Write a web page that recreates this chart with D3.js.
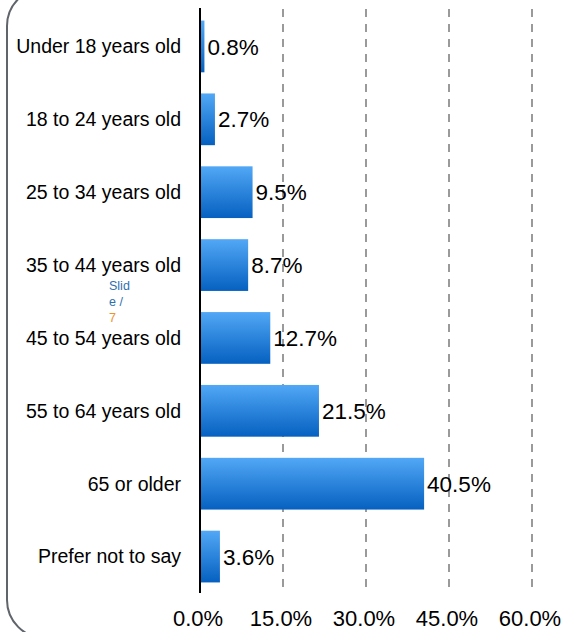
<!DOCTYPE html>
<html><head><meta charset="utf-8">
<script src="https://cdn.jsdelivr.net/npm/d3@7"></script>
<style>html,body{margin:0;padding:0;background:#fff;}svg{display:block;font-family:"Liberation Sans",Arial,sans-serif;}</style>
</head><body>
<svg id="chart" width="570" height="632"></svg>
<script>
const categories = ["Under 18 years old","18 to 24 years old","25 to 34 years old","35 to 44 years old","45 to 54 years old","55 to 64 years old","65 or older","Prefer not to say"];
const values = [0.8, 2.7, 9.5, 8.7, 12.7, 21.5, 40.5, 3.6];
const tickValues = [0, 15, 30, 45, 60];
const tickLabels = ["0.0%","15.0%","30.0%","45.0%","60.0%"];

const svg = d3.select("#chart");
const defs = svg.append("defs");
const grad = defs.append("linearGradient").attr("id","barGrad").attr("x1",0).attr("y1",0).attr("x2",0).attr("y2",1);
grad.append("stop").attr("offset","0%").attr("stop-color","#52a8f6");
grad.append("stop").attr("offset","100%").attr("stop-color","#0560c0");

// rounded border
svg.append("rect").attr("x",7).attr("y",-12).attr("width",700).attr("height",650)
  .attr("rx",38).attr("ry",38).attr("fill","none").attr("stroke","#60646b").attr("stroke-width",2);

const x = d3.scaleLinear().domain([0,60]).range([200,532]);
const y = d3.scaleBand().domain(categories).range([10,593]).paddingInner(0.29).paddingOuter(0.145);

// gridlines
svg.append("g").selectAll("line").data(tickValues.filter(d=>d>0)).join("line")
  .attr("x1",d=>x(d)).attr("x2",d=>x(d)).attr("y1",9).attr("y2",593)
  .attr("stroke","#9a9a9a").attr("stroke-width",2).attr("stroke-dasharray","8,7");

// bars
svg.append("g").selectAll("rect").data(values).join("rect")
  .attr("x",x(0)).attr("y",(d,i)=>y(categories[i]))
  .attr("width",d=>x(d)-x(0)).attr("height",y.bandwidth())
  .attr("fill","url(#barGrad)");

// axis line
svg.append("line").attr("x1",x(0)).attr("x2",x(0)).attr("y1",8).attr("y2",593)
  .attr("stroke","#000").attr("stroke-width",2);

// category labels
svg.append("g").selectAll("text").data(categories).join("text")
  .attr("x",181).attr("y",d=>y(d)+y.bandwidth()/2).attr("dy","0.35em")
  .attr("text-anchor","end").attr("font-size","19.5px").attr("fill","#000").text(d=>d);

// value labels
svg.append("g").selectAll("text").data(values).join("text")
  .attr("x",d=>x(d)+3).attr("y",(d,i)=>y(categories[i])+y.bandwidth()/2).attr("dy","0.36em")
  .attr("font-size","22.5px").attr("fill","#000").text(d=>d.toFixed(1)+"%");

// x axis tick labels
svg.append("g").selectAll("text").data(tickValues).join("text")
  .attr("x",d=>x(d)-2).attr("y",626).attr("text-anchor","middle")
  .attr("font-size","22px").attr("fill","#000").text((d,i)=>tickLabels[i]);

// slide number
const sl = svg.append("text").attr("font-size","12.5px");
sl.append("tspan").attr("x",109).attr("y",290).attr("fill","#2f6fae").text("Slid");
sl.append("tspan").attr("x",109).attr("y",306).attr("fill","#2f6fae").text("e /");
sl.append("tspan").attr("x",109).attr("y",322).attr("fill","#f0922b").text("7");
</script>
</body></html>
